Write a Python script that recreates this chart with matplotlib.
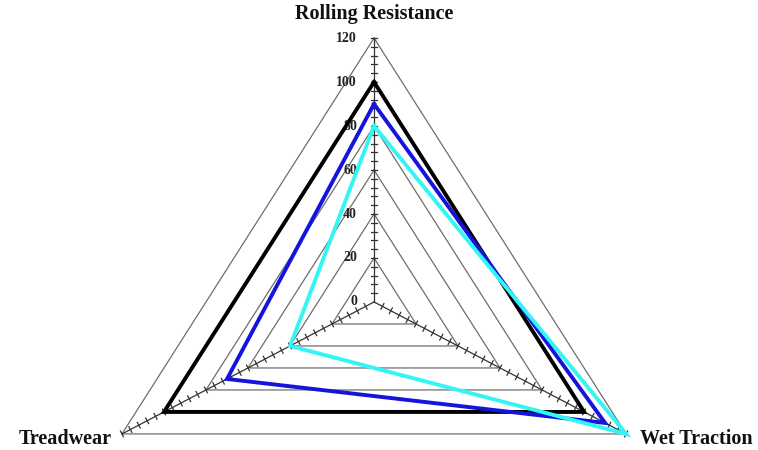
import numpy as np
import matplotlib
matplotlib.use('Agg')
import matplotlib.pyplot as plt

# Radar chart data: three tyre properties, three tyres
categories = ['Rolling Resistance', 'Wet Traction', 'Treadwear']
angles_deg = [90, -30, 210]
black_series = [100, 100, 100]
blue_series = [90, 110, 70]
cyan_series = [80, 120, 40]
grid_levels = [20, 40, 60, 80, 100, 120]
tick_values = [0, 20, 40, 60, 80, 100, 120]
tick_labels = ['0', '20', '40', '60', '80', '100', '120']

W, H = 758, 450
XLIM = (-154.2, 158.3)
YLIM = (-67.3, 137.3)
sx = W / (XLIM[1] - XLIM[0])  # px per unit
sy = H / (YLIM[1] - YLIM[0])

theta = np.radians(angles_deg)
PX = 0.72  # points per pixel at dpi 100
serif = ['Liberation Serif', 'DejaVu Serif']


def to_xy(values):
    r = np.asarray(values, dtype=float)
    x = r * np.cos(theta)
    y = r * np.sin(theta)
    return np.append(x, x[0]), np.append(y, y[0])


fig = plt.figure(figsize=(W / 100, H / 100), dpi=100)
ax = fig.add_axes([0, 0, 1, 1])
ax.set_xlim(*XLIM)
ax.set_ylim(*YLIM)
ax.axis('off')

# grid triangles
for level in grid_levels:
    gx, gy = to_xy([level] * 3)
    ax.plot(gx, gy, color='#6e6e6e', lw=0.9, zorder=1)

# spokes with minor ticks
for t in theta:
    ax.plot([0, 120 * np.cos(t)], [0, 120 * np.sin(t)], color='#333333', lw=0.9, zorder=2)
    d = np.array([np.cos(t) * sx, np.sin(t) * sy])
    d /= np.linalg.norm(d)
    n = np.array([-d[1], d[0]]) * 3.2
    for v in range(4, 121, 4):
        px, py = v * np.cos(t), v * np.sin(t)
        ax.plot([px - n[0] / sx, px + n[0] / sx], [py - n[1] / sy, py + n[1] / sy],
                color='#333333', lw=0.9, zorder=2)

# series
for vals, col in [(black_series, '#000000'), (blue_series, '#1414dc'), (cyan_series, '#33f5f5')]:
    lx, ly = to_xy(vals)
    ax.plot(lx, ly, color=col, lw=2.8, solid_joinstyle='miter', zorder=3)

# value labels on the top spoke
for v, lab in zip(tick_values, tick_labels):
    ax.annotate(lab, (0, v), xytext=(-17 * PX, 0), textcoords='offset points',
                ha='right', va='center', fontsize=10, fontweight='bold',
                family=serif, color='#222222', zorder=2)

# category labels
offsets = {'Rolling Resistance': ((0, 24), 'center'),
           'Wet Traction': ((14, -5), 'left'),
           'Treadwear': ((-10, -5), 'right')}
for name, t in zip(categories, theta):
    (ox, oy), ha = offsets[name]
    ax.annotate(name, (120 * np.cos(t), 120 * np.sin(t)), xytext=(ox * PX, oy * PX),
                textcoords='offset points', ha=ha, va='center', fontsize=14.5,
                fontweight='bold', family=serif, color='#111111')

fig.savefig('out.png', dpi=100)
